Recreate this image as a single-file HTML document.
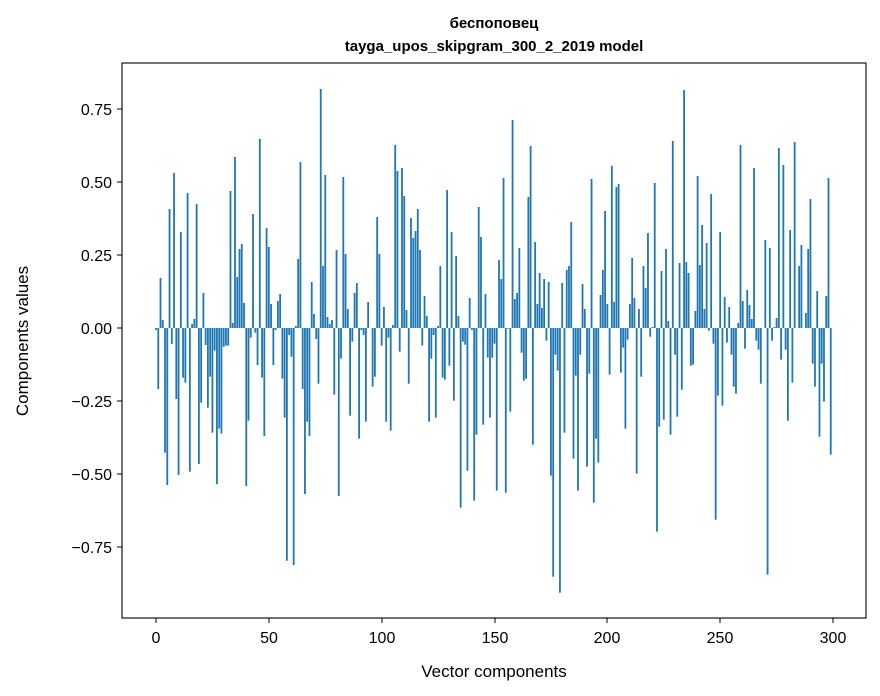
<!DOCTYPE html>
<html><head><meta charset="utf-8"><style>
html,body{margin:0;padding:0;background:#fff;}
svg{display:block;font-family:"Liberation Sans","DejaVu Sans",sans-serif;}
</style></head><body>
<svg id="s" width="880" height="696" xmlns="http://www.w3.org/2000/svg">
<rect width="880" height="696" fill="#fff"/>
<g id="bars" fill="#1f77b4"></g>
<rect x="122" y="63" width="744" height="555" fill="none" stroke="#000" stroke-width="1.1"/>
<g stroke="#000" stroke-width="1">
<line x1="156" y1="618" x2="156" y2="623"/><line x1="269" y1="618" x2="269" y2="623"/>
<line x1="382" y1="618" x2="382" y2="623"/><line x1="495" y1="618" x2="495" y2="623"/>
<line x1="607" y1="618" x2="607" y2="623"/><line x1="720" y1="618" x2="720" y2="623"/>
<line x1="833" y1="618" x2="833" y2="623"/>
<line x1="117" y1="109" x2="122" y2="109"/><line x1="117" y1="182" x2="122" y2="182"/>
<line x1="117" y1="255" x2="122" y2="255"/><line x1="117" y1="328" x2="122" y2="328"/>
<line x1="117" y1="401" x2="122" y2="401"/><line x1="117" y1="474" x2="122" y2="474"/>
<line x1="117" y1="547" x2="122" y2="547"/>
</g>
<g font-size="16" fill="#000" text-anchor="middle">
<text x="156" y="643">0</text><text x="269" y="643">50</text><text x="382" y="643">100</text>
<text x="495" y="643">150</text><text x="607" y="643">200</text><text x="720" y="643">250</text>
<text x="833" y="643">300</text>
<text x="494" y="677" font-size="17">Vector components</text>
</g>
<g font-size="16" fill="#000" text-anchor="end">
<text x="112" y="115">0.75</text><text x="112" y="188">0.50</text><text x="112" y="261">0.25</text>
<text x="112" y="334">0.00</text><text x="112" y="407">−0.25</text><text x="112" y="480">−0.50</text>
<text x="112" y="553">−0.75</text>
</g>
<text transform="translate(28,341) rotate(-90)" font-size="17" text-anchor="middle">Components values</text>
<g font-size="15" font-weight="bold" text-anchor="middle">
<text x="494" y="28">беспоповец</text>
<text x="494" y="51">tayga_upos_skipgram_300_2_2019 model</text>
</g>
</svg>
<script>
var crops=[[150,[[19,750],[27,927],[33,594],[39,720],[46,1118],[54,1215],[60,387],[66,792],[73,279],[81,957],[87,1185],[93,456],[100,893],[108,908],[114,339],[120,1175],[129,732],[135,717],[141,372],[147,1152],[156,968],[162,639],[168,795],[174,983],[183,890],[189,1058],[195,812],[202,1212],[210,1046],[216,1061],[222,800],[229,797],[237,797],[243,333],[249,729],[256,231],[264,591],[270,507],[276,492],[283,669],[291,1218],[297,1022],[303,773],[310,402],[318,758],[324,855],[330,177],[337,893],[345,1068],[351,444],[357,501],[364,672],[372,855],[378,750],[383,663],[391,642],[399,896],[405,1013],[411,1442],[420,765],[426,830],[432,1455],[438,738],[447,537],[453,246],[459,927],[466,1242],[474,1025],[480,1068],[486,606],[493,702],[501,777],[507,911],[513,27],[520,558]]],
[320,[[17,285],[24,711],[30,732],[37,720],[44,944],[51,510],[57,1248],[64,836],[71,291],[78,522],[84,687],[92,1007],[98,785],[105,639],[111,609],[118,1076],[125,750],[132,765],[138,1025],[145,666],[158,920],[165,890],[173,411],[180,522],[186,797],[192,681],[200,1025],[207,773],[213,1052],[219,735],[227,195],[234,273],[240,815],[247,264],[254,348],[261,690],[267,911],[274,414],[282,474],[288,453],[294,387],[301,510],[309,797],[315,648],[321,708],[328,1025],[336,836],[342,765],[348,1013],[355,738],[362,558],[369,893],[375,899],[382,330],[390,857],[396,456],[402,962],[409,528],[417,708],[423,1283],[429,785],[436,794],[443,1172],[450,654],[456,750],[465,1262],[470,1064],[477,381],[483,471],[491,1034],[498,642],[504,833],[511,1013],[518,833],[523,791]]],
[490,[[21,1232],[28,540],[36,597],[42,294],[48,1238],[55,746],[63,995],[69,120],[75,657],[82,639],[89,504],[96,818],[101,902],[109,896],[116,351],[123,198],[129,1094],[136,486],[143,672],[150,579],[156,684],[163,597],[170,782],[177,606],[183,1187],[190,1490],[197,824],[204,872],[210,1538],[218,609],[225,1058],[231,570],[237,558],[245,426],[252,1136],[258,887],[264,1232],[273,824],[279,612],[285,687],[292,1160],[299,881],[305,297],[312,1268],[319,1076],[326,1148],[333,645],[339,570],[346,393],[353,672],[360,884],[366,258],[373,666],[380,321],[387,312],[393,878],[400,803],[407,1046],[413,779],[420,672],[427,534],[434,654],[440,1181],[447,687],[454,890],[461,558],[467,624],[474,459],[481,770],[488,741],[495,309],[501,1355],[509,1040],[516,573],[522,1019]]],
[660,[[18,507],[27,723],[33,1064],[39,183],[46,824],[54,1010],[60,549],[66,929],[73,30],[81,546],[87,579],[93,857],[100,854],[108,693],[114,288],[120,555],[127,435],[135,687],[141,489],[147,752],[154,342],[162,791],[168,1319],[174,947],[181,456],[189,977],[195,651],[201,788],[208,681],[216,824],[222,920],[228,941],[236,729],[243,195],[249,663],[255,806],[262,630],[269,675],[276,717],[282,264],[290,782],[297,809],[303,911],[318,480],[323,1484],[330,504],[337,782],[345,741],[351,714],[357,204],[364,839],[372,255],[378,809],[384,1022],[391,450],[399,908],[405,186],[418,558],[425,495],[437,699],[444,507],[452,357],[459,851],[465,920],[472,633],[480,1070],[486,851],[492,965],[499,648],[507,294],[513,1124]]]];
var m={};
crops.forEach(function(c){c[1].forEach(function(b){var x=c[0]+b[0]/3;var i=Math.round((x-156)/2.2567);if(i<0||i>299)return;if(!(i in m))m[i]=80+b[1]/3;});});
var g=document.getElementById('bars'),h='';
for(var i in m){var x=156+i*2.2567-0.9,y=m[i],t=Math.min(y,328),hh=Math.abs(y-328);h+='<rect x="'+x.toFixed(2)+'" y="'+t.toFixed(2)+'" width="1.8" height="'+Math.max(hh,0.5).toFixed(2)+'"/>';}
g.innerHTML=h;
</script>
</body></html>
